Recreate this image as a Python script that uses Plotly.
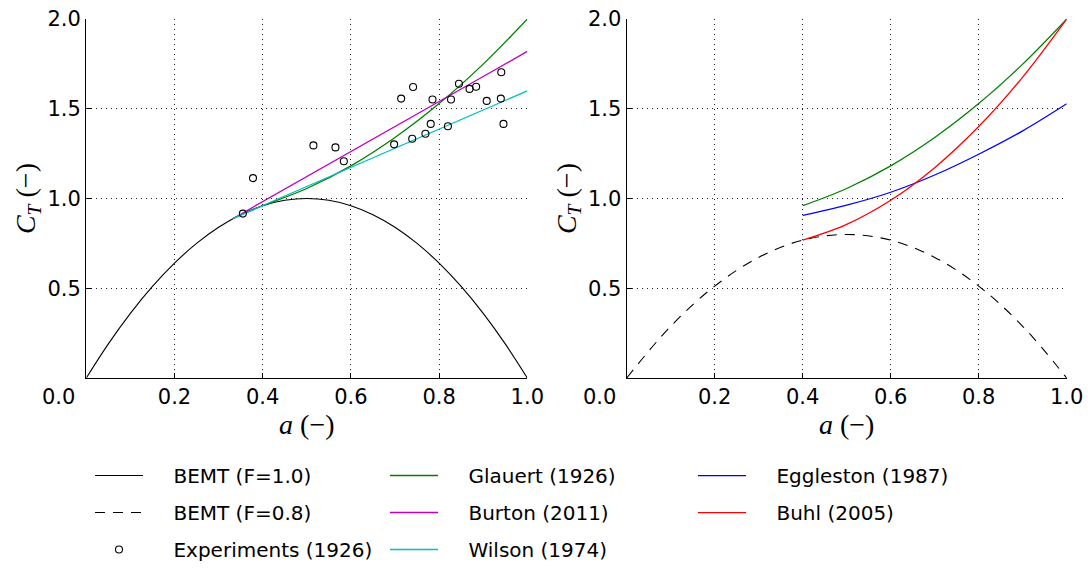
import plotly.graph_objects as go

# ---- data -------------------------------------------------------------
# axial induction factor grid for the momentum-theory curves
a_bemt = [0.0, 0.05, 0.1, 0.15, 0.2, 0.25, 0.3, 0.35, 0.4, 0.45, 0.5,
          0.55, 0.6, 0.65, 0.7, 0.75, 0.8, 0.85, 0.9, 0.95, 1.0]
ct_bemt_f10 = [0.0, 0.19, 0.36, 0.51, 0.64, 0.75, 0.84, 0.91, 0.96, 0.99, 1.0,
               0.99, 0.96, 0.91, 0.84, 0.75, 0.64, 0.51, 0.36, 0.19, 0.0]

a_bemt08 = [0.0, 0.1, 0.2, 0.3, 0.4, 0.5, 0.6, 0.7, 0.8, 0.9, 1.0]
ct_bemt_f08 = [0.0, 0.288, 0.512, 0.672, 0.768, 0.8, 0.768, 0.672, 0.512, 0.288, 0.0]

# high-induction corrections, F = 1.0
a_corr = [0.333, 0.4, 0.5, 0.6, 0.7, 0.8, 0.9, 1.0]
ct_glauert = [0.89, 0.96, 1.056, 1.182, 1.34, 1.529, 1.749, 2.0]
ct_burton = [0.889, 0.982, 1.122, 1.261, 1.401, 1.541, 1.680, 1.82]
ct_wilson = [0.889, 0.960, 1.067, 1.173, 1.280, 1.387, 1.493, 1.60]

# experiments (1926)
a_exp = [0.355, 0.378, 0.515, 0.565, 0.584, 0.698, 0.714, 0.741, 0.739, 0.769,
         0.781, 0.785, 0.820, 0.827, 0.845, 0.869, 0.884, 0.908, 0.940, 0.941, 0.946]
ct_exp = [0.916, 1.114, 1.296, 1.285, 1.208, 1.302, 1.557, 1.622, 1.333, 1.361,
          1.416, 1.552, 1.403, 1.552, 1.640, 1.611, 1.623, 1.544, 1.557, 1.704, 1.416]

# corrections with tip loss, F = 0.8
a_corr08 = [0.4, 0.5, 0.6, 0.7, 0.8, 0.9, 1.0]
ct_glauert08 = [0.96, 1.056, 1.182, 1.34, 1.529, 1.749, 2.0]
ct_eggleston = [0.906, 0.963, 1.035, 1.131, 1.247, 1.377, 1.528]
ct_buhl = [0.768, 0.856, 0.990, 1.172, 1.401, 1.677, 2.0]

x_ticks = [0.2, 0.4, 0.6, 0.8, 1.0]
y_ticks = [0.5, 1.0, 1.5, 2.0]

# ---- styling ----------------------------------------------------------
TICK_FONT = dict(family="DejaVu Sans", size=21, color="black")
TITLE_FONT = dict(family="Liberation Serif", size=28, color="black")
LEG_FONT = dict(family="DejaVu Sans", size=20, color="black")
LW = 1.3
PAD = "\u00a0" * 4  # gap between legend sample and label


def lbl(s):
    return PAD + s


fig = go.Figure()

# left panel
fig.add_trace(go.Scatter(x=a_bemt, y=ct_bemt_f10, mode="lines", line_shape="spline",
                         line=dict(color="black", width=1.1), name=lbl("BEMT (F=1.0)"),
                         legend="legend", legendgroup="g1", legendrank=1,
                         xaxis="x", yaxis="y"))
fig.add_trace(go.Scatter(x=a_corr, y=ct_glauert, mode="lines", line_shape="spline",
                         line=dict(color="#008000", width=LW), name=lbl("Glauert (1926)"),
                         legend="legend2", legendgroup="g4", legendrank=4,
                         xaxis="x", yaxis="y"))
fig.add_trace(go.Scatter(x=a_corr, y=ct_burton, mode="lines",
                         line=dict(color="#bf00bf", width=LW), name=lbl("Burton (2011)"),
                         legend="legend2", legendgroup="g5", legendrank=5,
                         xaxis="x", yaxis="y"))
fig.add_trace(go.Scatter(x=a_corr, y=ct_wilson, mode="lines",
                         line=dict(color="#00bfbf", width=LW), name=lbl("Wilson (1974)"),
                         legend="legend2", legendgroup="g6", legendrank=6,
                         xaxis="x", yaxis="y"))
fig.add_trace(go.Scatter(x=a_exp, y=ct_exp, mode="markers",
                         marker=dict(symbol="circle-open", size=7, color="black",
                                     line=dict(width=1.1, color="black")),
                         name=lbl("Experiments (1926)"), legend="legend", legendgroup="g3",
                         legendrank=3, xaxis="x", yaxis="y"))

# right panel
fig.add_trace(go.Scatter(x=a_bemt08, y=ct_bemt_f08, mode="lines", line_shape="spline",
                         line=dict(color="black", width=1.1, dash="10px,8px"),
                         name=lbl("BEMT (F=0.8)"), legend="legend", legendgroup="g2",
                         legendrank=2, xaxis="x2", yaxis="y2"))
fig.add_trace(go.Scatter(x=a_corr08, y=ct_glauert08, mode="lines", line_shape="spline",
                         line=dict(color="#008000", width=LW), name="Glauert (1926)",
                         showlegend=False, xaxis="x2", yaxis="y2"))
fig.add_trace(go.Scatter(x=a_corr08, y=ct_eggleston, mode="lines", line_shape="spline",
                         line=dict(color="#0000ff", width=LW), name=lbl("Eggleston (1987)"),
                         legend="legend3", legendgroup="g7", legendrank=7,
                         xaxis="x2", yaxis="y2"))
fig.add_trace(go.Scatter(x=a_corr08, y=ct_buhl, mode="lines", line_shape="spline",
                         line=dict(color="#ff0000", width=LW), name=lbl("Buhl (2005)"),
                         legend="legend3", legendgroup="g8", legendrank=8,
                         xaxis="x2", yaxis="y2"))

W, H = 1088, 569
y_dom = [(H - 382) / H, (H - 19.3) / H]

AX_COMMON = dict(tickfont=TICK_FONT, ticks="inside", ticklen=5, tickcolor="black",
                 tickwidth=1, showline=True, linecolor="black", linewidth=1.4,
                 mirror=False, showgrid=True, gridcolor="#222222", gridwidth=1,
                 griddash="1px,4px", zeroline=False, automargin=False)


def xaxis(dom, anchor):
    return dict(domain=dom, anchor=anchor, range=[0, 1], tickvals=x_ticks,
                ticktext=["%.1f" % v for v in x_ticks],
                title=dict(text="<i>a</i> (−)", font=TITLE_FONT, standoff=6),
                **AX_COMMON)


def yaxis(anchor):
    return dict(domain=y_dom, anchor=anchor, range=[0, 2], tickvals=y_ticks,
                ticktext=["%.1f" % v for v in y_ticks],
                title=dict(text="<i>C<sub>T</sub></i> (−)", font=TITLE_FONT, standoff=3),
                **AX_COMMON)


legend_common = dict(font=LEG_FONT, orientation="v", xanchor="left", yanchor="top",
                      bgcolor="rgba(0,0,0,0)", tracegroupgap=8, itemwidth=48)

fig.update_layout(
    width=W, height=H, margin=dict(l=0, r=0, t=0, b=0),
    paper_bgcolor="white", plot_bgcolor="white",
    xaxis=xaxis([86.3 / W, 527.3 / W], "y"),
    yaxis=yaxis("x"),
    xaxis2=xaxis([626.7 / W, 1066.7 / W], "y2"),
    yaxis2=yaxis("x2"),
    legend=dict(x=90 / W, y=1 - 461 / H, **legend_common),
    legend2=dict(x=385 / W, y=1 - 461 / H, **legend_common),
    legend3=dict(x=693 / W, y=1 - 461 / H, **legend_common),
    annotations=[
        dict(text="0.0", x=0, y=0, xref=xr, yref=yr, showarrow=False,
             xanchor="right", yanchor="top", xshift=-9, yshift=-5, font=TICK_FONT)
        for xr, yr in (("x", "y"), ("x2", "y2"))
    ],
)

fig.write_html("out.html")
